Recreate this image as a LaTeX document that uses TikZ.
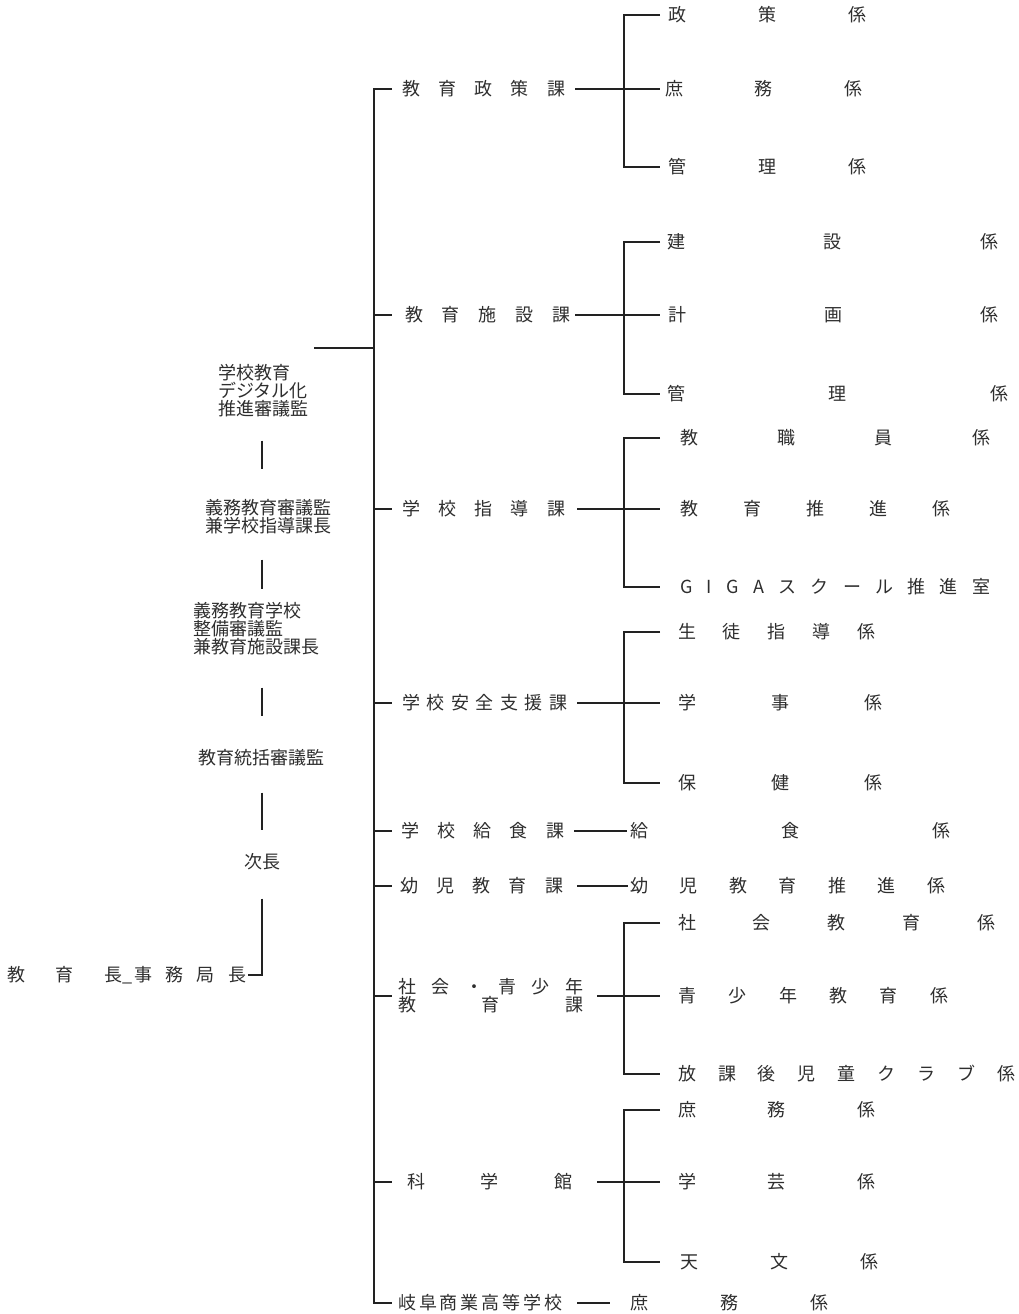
\documentclass[tikz,border=0pt]{standalone}
\usepackage{fontspec}
\setmainfont{Noto Sans CJK JP}
\usepackage{xcolor}
\usepackage{tikz}
\definecolor{ink}{HTML}{2E2E2E}
\definecolor{rule}{HTML}{222222}
\makeatletter
\newcommand{\spaced}[2]{\makebox[#1][s]{\spaced@first#2\@nil}}
\def\spaced@first#1{#1\spaced@next}
\def\spaced@next#1{\ifx#1\@nil\else\hfill#1\expandafter\spaced@next\fi}
\makeatother

\begin{document}
\begin{tikzpicture}[x=1pt, y=-1pt,
  unit/.style={inner sep=0pt, anchor=west, text=ink, align=left, font=\fontsize{18}{18}\selectfont},
  post/.style={inner sep=0pt, text=ink, align=left, font=\fontsize{18}{18}\selectfont},
  link/.style={draw=rule, line width=1.2pt}
]
\useasboundingbox (0,0) rectangle (1019,1314);
\coordinate (trunk) at (374,0);
\coordinate (tick) at (392,0);
\coordinate (bar) at (624,0);
\coordinate (tip) at (660,0);
\coordinate (chain) at (262,0);
\coordinate (dxjoin) at (314,348);

% posts on the left
\node[post] (dx) at (263,391) {学校教育\\デジタル化\\推進審議監};
\node[post] (gk) at (268,517) {義務教育審議監\\兼学校指導課長};
\node[post] (gs) at (256,629) {義務教育学校\\整備審議監\\兼教育施設課長};
\node[post] (tk) at (261,758) {教育統括審議監};
\node[post] (jc) at (262,862) {次長};
\node[unit] (kyo) at (7,975) {\spaced{115pt}{教育長}\_\hspace{2pt}\spaced{112pt}{事務局長}};

% sections
\node[unit] (sec1) at (402,89) {\spaced{163pt}{教育政策課}};
\node[unit] (sec2) at (405,315) {\spaced{165pt}{教育施設課}};
\node[unit] (sec3) at (402,509) {\spaced{163pt}{学校指導課}};
\node[unit] (sec4) at (402,703) {\spaced{165pt}{学校安全支援課}};
\node[unit] (sec5) at (401,831) {\spaced{163pt}{学校給食課}};
\node[unit] (sec6) at (400,886) {\spaced{163pt}{幼児教育課}};
\node[unit] (sec7) at (398,996) {\spaced{185pt}{社会・青少年}\\\spaced{185pt}{教育課}};
\node[unit] (sec8) at (407,1182) {\spaced{165pt}{科学館}};
\node[unit] (sec9) at (398,1303) {\spaced{164pt}{岐阜商業高等学校}};

% subsections
\node[unit] (sub1a) at (668,15) {\spaced{198pt}{政策係}};
\node[unit] (sub1b) at (665,89) {\spaced{197pt}{庶務係}};
\node[unit] (sub1c) at (668,167) {\spaced{198pt}{管理係}};
\node[unit] (sub2a) at (667,242) {\spaced{331pt}{建設係}};
\node[unit] (sub2b) at (668,315) {\spaced{330pt}{計画係}};
\node[unit] (sub2c) at (667,394) {\spaced{341pt}{管理係}};
\node[unit] (sub3a) at (680,438) {\spaced{310pt}{教職員係}};
\node[unit] (sub3b) at (680,509) {\spaced{270pt}{教育推進係}};
\node[unit] (sub3c) at (680,587) {\spaced{310pt}{GIGAスクール推進室}};
\node[unit] (sub4a) at (678,632) {\spaced{197pt}{生徒指導係}};
\node[unit] (sub4b) at (678,703) {\spaced{204pt}{学事係}};
\node[unit] (sub4c) at (678,783) {\spaced{204pt}{保健係}};
\node[unit] (sub5a) at (630,831) {\spaced{320pt}{給食係}};
\node[unit] (sub6a) at (630,886) {\spaced{315pt}{幼児教育推進係}};
\node[unit] (sub7a) at (678,923) {\spaced{317pt}{社会教育係}};
\node[unit] (sub7b) at (678,996) {\spaced{270pt}{青少年教育係}};
\node[unit] (sub7c) at (678,1074) {\spaced{337pt}{放課後児童クラブ係}};
\node[unit] (sub8a) at (678,1110) {\spaced{197pt}{庶務係}};
\node[unit] (sub8b) at (678,1182) {\spaced{197pt}{学芸係}};
\node[unit] (sub8c) at (680,1262) {\spaced{198pt}{天文係}};
\node[unit] (sub9a) at (630,1303) {\spaced{198pt}{庶務係}};

% chain of posts
\draw[link, shorten <=23pt, shorten >=30pt] (dx.south -| chain) -- (gk.north -| chain);
\draw[link, shorten <=25pt, shorten >=13pt] (gk.south -| chain) -- (gs.north -| chain);
\draw[link, shorten <=32pt, shorten >=33pt] (gs.south -| chain) -- (tk.north -| chain);
\draw[link, shorten <=26pt, shorten >=24pt] (tk.south -| chain) -- (jc.north -| chain);
\draw[link, shorten <=28pt] (jc.south -| chain) |- ([xshift=2pt]kyo.east);
\draw[link] (dxjoin) -- (dxjoin -| trunk);

% trunk and section ticks
\draw[link] (sec1.west -| tick) -- (sec1.west -| trunk) -- (sec9.west -| trunk) -- (sec9.west -| tick);
\draw[link] (sec2.west -| trunk) -- (sec2.west -| tick);
\draw[link] (sec3.west -| trunk) -- (sec3.west -| tick);
\draw[link] (sec4.west -| trunk) -- (sec4.west -| tick);
\draw[link] (sec5.west -| trunk) -- (sec5.west -| tick);
\draw[link] (sec6.west -| trunk) -- (sec6.west -| tick);
\draw[link] (sec7.west -| trunk) -- (sec7.west -| tick);
\draw[link] (sec8.west -| trunk) -- (sec8.west -| tick);

% brackets to subsections
\draw[link] (sub1a.west -| tip) -- (sub1a.west -| bar) -- (sub1c.west -| bar) -- (sub1c.west -| tip);
\draw[link] ([xshift=10pt]sec1.east) -- (sec1.east -| tip);
\draw[link] (sub2a.west -| tip) -- (sub2a.west -| bar) -- (sub2c.west -| bar) -- (sub2c.west -| tip);
\draw[link] ([xshift=5pt]sec2.east) -- (sec2.east -| tip);
\draw[link] (sub3a.west -| tip) -- (sub3a.west -| bar) -- (sub3c.west -| bar) -- (sub3c.west -| tip);
\draw[link] ([xshift=12pt]sec3.east) -- (sec3.east -| tip);
\draw[link] (sub4a.west -| tip) -- (sub4a.west -| bar) -- (sub4c.west -| bar) -- (sub4c.west -| tip);
\draw[link] ([xshift=10pt]sec4.east) -- (sec4.east -| tip);
\draw[link] ([xshift=10pt]sec5.east) -- ([xshift=-3pt]sec5.east -| sub5a.west);
\draw[link] ([xshift=14pt]sec6.east) -- ([xshift=-2pt]sec6.east -| sub6a.west);
\draw[link] (sub7a.west -| tip) -- (sub7a.west -| bar) -- (sub7c.west -| bar) -- (sub7c.west -| tip);
\draw[link] ([xshift=14pt]sec7.east) -- (sec7.east -| tip);
\draw[link] (sub8a.west -| tip) -- (sub8a.west -| bar) -- (sub8c.west -| bar) -- (sub8c.west -| tip);
\draw[link] ([xshift=25pt]sec8.east) -- (sec8.east -| tip);
\draw[link] ([xshift=15pt]sec9.east) -- ([xshift=-20pt]sec9.east -| sub9a.west);
\end{tikzpicture}
\end{document}
